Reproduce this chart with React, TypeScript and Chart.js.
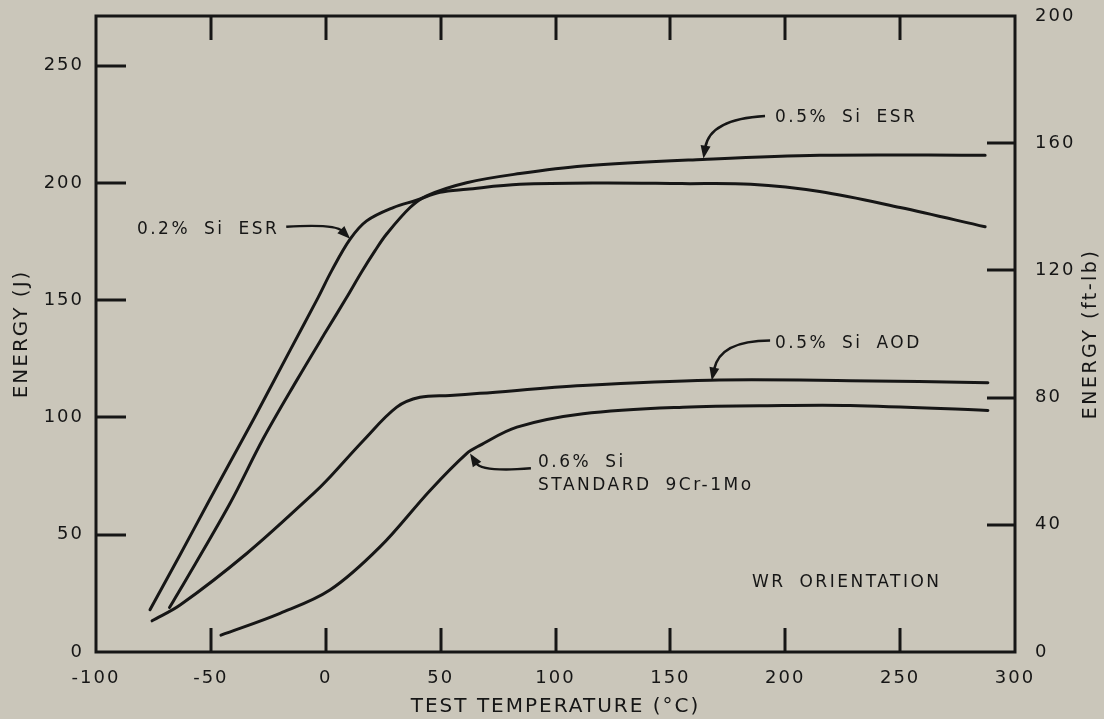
import React, { useEffect, useRef } from "react";
import { Chart, registerables } from "chart.js";

Chart.register(...registerables);

// ---- tick labels ----
const xTickValues = [-100, -50, 0, 50, 100, 150, 200, 250, 300];
const joulesTickValues = [0, 50, 100, 150, 200, 250];
const ftlbTickValues = [0, 40, 80, 120, 160, 200];
const FTLB_TO_J = 1.35582;

// ---- series: 0.2% Si ESR ----
const esr02Temp = [-76.5, -63.4, -51.3, -41.7, -31, -15.6, -3.4, 2.6, 10.6, 17.8, 29.4, 39.5, 49.7, 61.3, 84.5, 120, 155, 185, 215, 250, 287];
const esr02Energy = [18, 41.5, 63.5, 80.8, 100, 128.5, 151, 162.6, 176, 183.8, 189.5, 192.6, 196, 197.3, 199.4, 200, 199.7, 199.4, 196.3, 189.5, 181.3];

// ---- series: 0.5% Si ESR ----
const esr05Temp = [-68, -63.4, -41.7, -27.2, -12.7, 0, 9, 15.6, 21.4, 26.5, 36.7, 43.9, 61.3, 84.5, 112, 164, 215, 287];
const esr05Energy = [19, 26.5, 63.3, 91, 115.7, 136.5, 151, 162, 171, 178.2, 189.5, 194.5, 200.1, 204, 207.2, 210, 211.8, 211.8];

// ---- series: 0.5% Si AOD ----
const aod05Temp = [-75.6, -63.4, -34.4, -5.4, 0.5, 16.4, 30.9, 41, 54.1, 67.1, 112, 167.2, 228.2, 288.2];
const aod05Energy = [13.3, 20, 42, 67.5, 73.2, 90.2, 104.4, 108.6, 109.4, 110.3, 113.6, 115.9, 115.7, 114.8];

// ---- series: 0.6% Si standard 9Cr-1Mo ----
const std06Temp = [-45.6, -19.9, 1.8, 23.6, 45.4, 61.3, 67.1, 83.2, 112, 155.5, 199, 228.2, 288.2];
const std06Energy = [7.2, 16.5, 26.4, 44.8, 68.9, 84.6, 88.1, 95.9, 101.6, 104.4, 105.1, 105.1, 103];

const INK = "#161616";
const BG = "#cac6ba";
const FONT_FAMILY = "'DejaVu Sans', 'Liberation Sans', sans-serif";

type Ann = {
  lines: string[];
  x: number;
  y: number;
  arrow?: { sx: number; sy: number; cx: number; cy: number; tx: number; ty: number };
};

// annotation anchors expressed in data units (temperature, joules)
const annotations: Ann[] = [
  { lines: ["0.2% Si ESR"], x: -82.2, y: 180.0, arrow: { sx: -17.2, sy: 181.3, cx: 4, cy: 182.6, tx: 10.6, ty: 176.2 } },
  { lines: ["0.5% Si ESR"], x: 195.5, y: 227.7, arrow: { sx: 191.2, sy: 228.5, cx: 167.2, cy: 227.2, tx: 164.4, ty: 210.4 } },
  { lines: ["0.5% Si AOD"], x: 195.5, y: 131.5, arrow: { sx: 193.4, sy: 132.8, cx: 171.6, cy: 132.8, tx: 168, ty: 115.8 } },
  { lines: ["0.6% Si", "STANDARD 9Cr-1Mo"], x: 92.4, y: 80.9, arrow: { sx: 89.3, sy: 78.3, cx: 68, cy: 76.6, tx: 62.8, ty: 84.6 } },
  { lines: ["WR ORIENTATION"], x: 185.5, y: 29.8 },
];

const series = [
  { label: "0.2% Si ESR", t: esr02Temp, e: esr02Energy },
  { label: "0.5% Si ESR", t: esr05Temp, e: esr05Energy },
  { label: "0.5% Si AOD", t: aod05Temp, e: aod05Energy },
  { label: "0.6% Si Standard 9Cr-1Mo", t: std06Temp, e: std06Energy },
];

const zeroPad = (s: any) => {
  s.paddingTop = 0;
  s.paddingBottom = 0;
  s.paddingLeft = 0;
  s.paddingRight = 0;
};

const framePlugin = {
  id: "frameAndNotes",
  beforeDraw(chart: any) {
    chart.ctx.letterSpacing = "2px";
  },
  afterDraw(chart: any) {
    const { ctx, chartArea, scales } = chart;
    const { left, right, top, bottom } = chartArea;
    const xs = scales.x;
    const ys = scales.y;
    const y2 = scales.y2;
    ctx.save();
    ctx.strokeStyle = INK;
    ctx.fillStyle = INK;
    ctx.lineWidth = 3;
    ctx.lineCap = "butt";
    ctx.lineJoin = "miter";
    ctx.strokeRect(left, top, right - left, bottom - top);

    ctx.beginPath();
    xTickValues.slice(1, -1).forEach((v) => {
      const px = Math.round(xs.getPixelForValue(v));
      ctx.moveTo(px, bottom);
      ctx.lineTo(px, bottom - 24);
      ctx.moveTo(px, top);
      ctx.lineTo(px, top + 24);
    });
    joulesTickValues.slice(1).forEach((v) => {
      const py = Math.round(ys.getPixelForValue(v));
      ctx.moveTo(left, py);
      ctx.lineTo(left + 30, py);
    });
    ftlbTickValues.slice(1, -1).forEach((v) => {
      const py = Math.round(y2.getPixelForValue(v));
      ctx.moveTo(right, py);
      ctx.lineTo(right - 28, py);
    });
    ctx.stroke();

    // right axis title, reading bottom-to-top
    ctx.font = `19px ${FONT_FAMILY}`;
    ctx.letterSpacing = "2.5px";
    ctx.textAlign = "center";
    ctx.textBaseline = "middle";
    ctx.save();
    ctx.translate(chart.width - 13, (top + bottom) / 2);
    ctx.rotate(-Math.PI / 2);
    ctx.fillText("ENERGY (ft-lb)", 0, 0);
    ctx.restore();

    // annotations
    ctx.font = `17px ${FONT_FAMILY}`;
    ctx.letterSpacing = "2.5px";
    ctx.wordSpacing = "6px";
    ctx.textAlign = "left";
    ctx.textBaseline = "middle";
    annotations.forEach((a) => {
      const px = xs.getPixelForValue(a.x);
      const py = ys.getPixelForValue(a.y);
      a.lines.forEach((ln, i) => ctx.fillText(ln, px, py + i * 23));
      if (a.arrow) {
        const r = a.arrow;
        const sx = xs.getPixelForValue(r.sx), sy = ys.getPixelForValue(r.sy);
        const cx = xs.getPixelForValue(r.cx), cy = ys.getPixelForValue(r.cy);
        const tx = xs.getPixelForValue(r.tx), ty = ys.getPixelForValue(r.ty);
        const ang = Math.atan2(ty - cy, tx - cx);
        const hl = 13, hw = 5;
        const bx = tx - hl * Math.cos(ang), by = ty - hl * Math.sin(ang);
        ctx.lineWidth = 2.5;
        ctx.beginPath();
        ctx.moveTo(sx, sy);
        ctx.quadraticCurveTo(cx, cy, bx + 2 * Math.cos(ang), by + 2 * Math.sin(ang));
        ctx.stroke();
        ctx.beginPath();
        ctx.moveTo(tx, ty);
        ctx.lineTo(bx + hw * Math.sin(ang), by - hw * Math.cos(ang));
        ctx.lineTo(bx - hw * Math.sin(ang), by + hw * Math.cos(ang));
        ctx.closePath();
        ctx.fill();
      }
    });
    ctx.restore();
    ctx.letterSpacing = "0px";
    ctx.wordSpacing = "0px";
  },
};

export default function App() {
  const canvasRef = useRef<HTMLCanvasElement | null>(null);

  useEffect(() => {
    const canvas = canvasRef.current;
    if (!canvas) return;
    const tickFont = { family: FONT_FAMILY, size: 18 };
    const titleFont = { family: FONT_FAMILY, size: 20 };
    const chart = new Chart(canvas, {
      type: "line",
      data: {
        datasets: series.map((s) => ({
          label: s.label,
          data: s.t.map((t, i) => ({ x: t, y: s.e[i] })),
          borderColor: INK,
          borderWidth: 3,
          pointRadius: 0,
          fill: false,
          tension: 0.35,
          borderCapStyle: "round" as const,
          yAxisID: "y",
        })),
      },
      options: {
        animation: false,
        responsive: false,
        maintainAspectRatio: false,
        devicePixelRatio: 1,
        layout: { autoPadding: false, padding: { top: 16, left: 0, right: 0, bottom: 0 } },
        plugins: {
          legend: { display: false },
          title: { display: false },
          subtitle: { display: false },
          tooltip: { enabled: false },
        },
        scales: {
          x: {
            type: "linear",
            position: "bottom",
            min: -100,
            max: 300,
            afterBuildTicks: (s: any) => {
              s.ticks = xTickValues.map((v) => ({ value: v }));
            },
            afterFit: (s: any) => {
              s.height = 67;
              zeroPad(s);
            },
            grid: { display: false, drawTicks: false },
            border: { display: false },
            ticks: { font: tickFont, color: INK, padding: 16, maxRotation: 0, autoSkip: false },
            title: { display: true, text: "TEST TEMPERATURE (°C)", font: titleFont, color: INK, padding: { top: 0, bottom: 0 } },
          },
          y: {
            type: "linear",
            position: "left",
            min: 0,
            max: 200 * FTLB_TO_J,
            afterBuildTicks: (s: any) => {
              s.ticks = joulesTickValues.map((v) => ({ value: v }));
            },
            afterFit: (s: any) => {
              s.width = 96;
              zeroPad(s);
            },
            grid: { display: false, drawTicks: false },
            border: { display: false },
            ticks: { font: tickFont, color: INK, padding: 12 },
            title: { display: true, text: "ENERGY (J)", font: titleFont, color: INK, padding: { top: 10, bottom: 0 } },
          },
          y2: {
            type: "linear",
            position: "right",
            min: 0,
            max: 200,
            afterBuildTicks: (s: any) => {
              s.ticks = ftlbTickValues.map((v) => ({ value: v }));
            },
            afterFit: (s: any) => {
              s.width = 89;
              zeroPad(s);
            },
            grid: { display: false, drawTicks: false },
            border: { display: false },
            ticks: { font: tickFont, color: INK, padding: 20 },
          },
        },
      },
      plugins: [framePlugin],
    } as any);
    return () => chart.destroy();
  }, []);

  return (
    <div style={{ position: "absolute", left: 0, top: 0, width: 1104, height: 719, background: BG }}>
      <canvas ref={canvasRef} width={1104} height={719} style={{ display: "block", width: 1104, height: 719 }} />
    </div>
  );
}
